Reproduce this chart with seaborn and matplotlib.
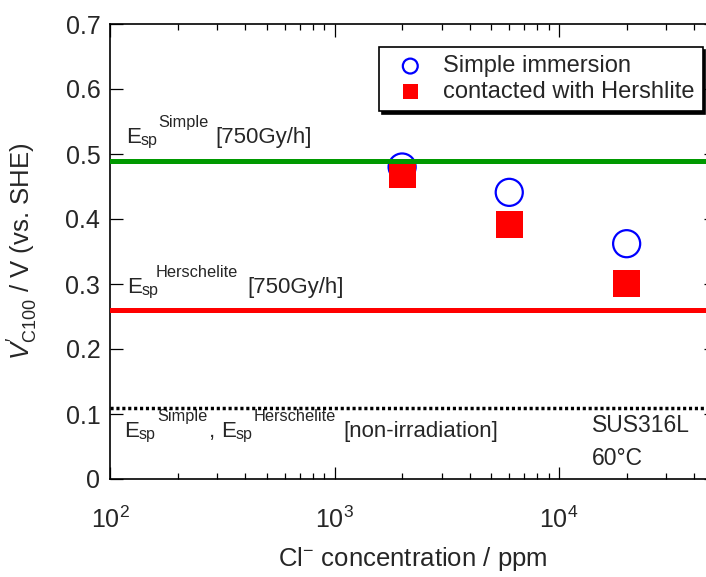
import numpy as np
import pandas as pd
import matplotlib
matplotlib.use("Agg")
import matplotlib.pyplot as plt
import seaborn as sns

# ---- data ----
cl_conc = [2000, 6000, 20000]
v_simple = [0.480, 0.441, 0.362]
v_hershlite = [0.468, 0.391, 0.301]
esp_simple_750 = 0.489
esp_herschelite_750 = 0.260
esp_nonirr = 0.110
y_ticks = [0, 0.1, 0.2, 0.3, 0.4, 0.5, 0.6, 0.7]
y_ticklabels = ["0", "0.1", "0.2", "0.3", "0.4", "0.5", "0.6", "0.7"]
series_names = ["Simple immersion", "contacted with Hershlite"]

sns.set_style("ticks")
plt.rcParams["font.family"] = ["Liberation Sans", "DejaVu Sans"]
plt.rcParams["mathtext.fontset"] = "custom"
plt.rcParams["mathtext.rm"] = "Liberation Sans"
plt.rcParams["mathtext.it"] = "Liberation Sans:italic"
plt.rcParams["mathtext.bf"] = "Liberation Sans:bold"

fig = plt.figure(figsize=(7.06, 5.77), dpi=100)
W, H = 706, 577
AX_L, AX_W = 110, 606
ax = fig.add_axes([AX_L / W, (H - 479) / H, AX_W / W, 455 / H])

df = pd.DataFrame({"conc": cl_conc, "simple": v_simple, "hersh": v_hershlite})

sns.scatterplot(data=df, x="conc", y="simple", marker="o", s=380,
                facecolor="none", edgecolor="#0000ff", linewidth=1.6,
                label=series_names[0], ax=ax, zorder=3)
sns.scatterplot(data=df, x="conc", y="hersh", marker="s", s=380,
                color="#ff0000", edgecolor="none", linewidth=0,
                label=series_names[1], ax=ax, zorder=3)

ax.axhline(esp_simple_750, color="#009900", lw=3.6, zorder=4)
ax.axhline(esp_herschelite_750, color="#ff0000", lw=3.6, zorder=4)
ax.axhline(esp_nonirr, color="black", lw=2.5, linestyle=(0, (0.9, 0.8)), zorder=4)

ax.set_xscale("log")
ax.set_xlim(100, 5e4)
ax.set_ylim(0, 0.7)
ax.set_yticks(y_ticks)
ax.set_yticklabels(y_ticklabels)

for s in ax.spines.values():
    s.set_linewidth(1.2)
    s.set_color("black")

ax.tick_params(which="both", direction="in", top=True, right=True, color="black", width=0.9)
ax.tick_params(which="major", length=9)
ax.tick_params(which="minor", length=4.5)
ax.tick_params(axis="y", labelsize=18, pad=7)
ax.tick_params(axis="x", labelsize=18, pad=20)
ax.yaxis.set_minor_locator(matplotlib.ticker.NullLocator())

ax.set_xlabel(r"Cl$^{\mathrm{-}}$ concentration / ppm", fontsize=18.5)
ax.set_ylabel(r"$\mathit{V}^{\prime}_{\mathrm{C100}}$ / V (vs. SHE)", fontsize=18.5)
ax.xaxis.set_label_coords(0.5, -0.145)
ax.yaxis.set_label_coords(-0.1155, 0.5)

# ---- annotations built from pieces (text, size, x_px, baseline shift in data) ----
tr = ax.get_yaxis_transform()
SUP = 0.0242
SUB = -0.004
SUP_SIZE = 11.8
SUB_SIZE = 11.5


def label_line(base_y, pieces):
    for txt, size, xpx, dy in pieces:
        ax.text((xpx - AX_L) / AX_W, base_y + dy, txt, transform=tr,
                fontsize=size, va="baseline", ha="left")


label_line(0.5174, [("E", 16, 126, 0), ("sp", SUB_SIZE, 140.5, SUB),
                    ("Simple", SUP_SIZE, 158, SUP), ("[750Gy/h]", 16, 215, 0)])
label_line(0.2866, [("E", 16, 127, 0), ("sp", SUB_SIZE, 141.5, SUB),
                    ("Herschelite", SUP_SIZE, 156, SUP), ("[750Gy/h]", 16, 247, 0)])
label_line(0.0650, [("E", 16, 124, 0), ("sp", SUB_SIZE, 138.5, SUB),
                    ("Simple", SUP_SIZE, 157, SUP), (",", 16, 209, 0),
                    ("E", 16, 221, 0), ("sp", SUB_SIZE, 235.5, SUB),
                    ("Herschelite", SUP_SIZE, 254, SUP), ("[non-irradiation]", 16, 343, 0)])

ax.text(0.795, 0.0723, "SUS316L", transform=tr, fontsize=16.5, va="baseline", ha="left")
ax.text(0.795, 0.0215, "60°C", transform=tr, fontsize=16.5, va="baseline", ha="left")

leg = ax.legend(loc="upper left", bbox_to_anchor=(379 / W, 1 - 47 / H),
                bbox_transform=fig.transFigure, borderaxespad=0,
                fontsize=17, markerscale=0.55, frameon=True, fancybox=False,
                shadow={"color": "black", "alpha": 1}, borderpad=0.35,
                handlelength=1.95, handletextpad=0.4, labelspacing=0.15)
leg.get_frame().set_edgecolor("black")
leg.get_frame().set_linewidth(1.2)
leg.get_frame().set_alpha(1)

fig.savefig("out.png", dpi=100)
